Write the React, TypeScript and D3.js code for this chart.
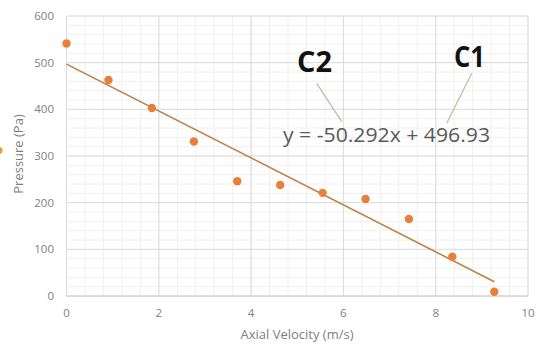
import React from "react";
import * as d3 from "d3";

const velocity = [0, 0.91, 1.85, 2.76, 3.7, 4.63, 5.55, 6.48, 7.42, 8.36, 9.27];
const pressure = [541, 463, 403, 331, 246, 238, 221, 208, 165, 84, 9];
const xTicks = [0, 2, 4, 6, 8, 10];
const yTicks = [0, 100, 200, 300, 400, 500, 600];
const slope = -50.292;
const intercept = 496.93;
const equationLabel = "y = -50.292x + 496.93";
const xTitle = "Axial Velocity (m/s)";
const yTitle = "Pressure (Pa)";

const W = 540;
const H = 349;
const font = "'Open Sans', 'DejaVu Sans', sans-serif";

export default function App() {
  const x = d3.scaleLinear().domain([0, 10]).range([66.5, 528]);
  const y = d3.scaleLinear().domain([0, 600]).range([296, 16]);
  const xMinor = d3.range(0, 10.001, 0.4);
  const yMinor = d3.range(0, 600.001, 20);
  const xEnd = d3.max(velocity) as number;
  const trend = d3
    .line<number>()
    .x((d) => x(d))
    .y((d) => y(slope * d + intercept));

  return (
    <svg
      width={W}
      height={H}
      style={{ position: "absolute", left: 0, top: 0, background: "#fff" }}
      fontFamily={font}
    >
      <rect width={W} height={H} fill="#fff" />
      {xMinor.map((v, i) => (
        <line key={"xm" + i} x1={x(v)} x2={x(v)} y1={y(600)} y2={y(0)} stroke="#f0f0f0" strokeWidth={1} />
      ))}
      {yMinor.map((v, i) => (
        <line key={"ym" + i} x1={x(0)} x2={x(10)} y1={y(v)} y2={y(v)} stroke="#f0f0f0" strokeWidth={1} />
      ))}
      {xTicks.map((v) => (
        <line key={"xg" + v} x1={x(v)} x2={x(v)} y1={y(600)} y2={y(0)} stroke="#dcdcdc" strokeWidth={1} />
      ))}
      {yTicks.map((v) => (
        <line key={"yg" + v} x1={x(0)} x2={x(10)} y1={y(v)} y2={y(v)} stroke="#dcdcdc" strokeWidth={1} />
      ))}
      <line x1={x(0)} x2={x(10)} y1={y(0)} y2={y(0)} stroke="#cfcfcf" strokeWidth={1.2} />
      {xTicks.map((v) => (
        <text key={"xt" + v} x={x(v)} y={317} textAnchor="middle" fontSize={11.5} fill="#7f7f7f">
          {v}
        </text>
      ))}
      {yTicks.map((v) => (
        <text key={"yt" + v} x={54} y={y(v) + 4} textAnchor="end" fontSize={11.5} fill="#7f7f7f">
          {v}
        </text>
      ))}
      <text x={297} y={339} textAnchor="middle" fontSize={13} fill="#7f7f7f">
        {xTitle}
      </text>
      <text transform={`translate(23,${154}) rotate(-90)`} textAnchor="middle" fontSize={13} fill="#7f7f7f">
        {yTitle}
      </text>
      <path d={trend([0, xEnd]) || ""} fill="none" stroke="#c0804a" strokeWidth={1.6} />
      {velocity.map((v, i) => (
        <circle key={"p" + i} cx={x(v)} cy={y(pressure[i])} r={4.2} fill="#e8803a" />
      ))}
      <circle cx={-1} cy={150.5} r={3.5} fill="#e8a030" />
      <text x={283} y={142} fontSize={20.5} fill="#595959" textLength={207} lengthAdjust="spacingAndGlyphs">
        {equationLabel}
      </text>
      <line x1={316.7} y1={83.3} x2={341.7} y2={121.7} stroke="#c4b5a5" strokeWidth={1.2} />
      <line x1={471.7} y1={73.3} x2={446.7} y2={123.3} stroke="#c4b5a5" strokeWidth={1.2} />
      <text x={297} y={72} fontSize={29} fontWeight="bold" fill="#111" textLength={35} lengthAdjust="spacingAndGlyphs">
        C2
      </text>
      <text x={454} y={67} fontSize={29} fontWeight="bold" fill="#111" textLength={31} lengthAdjust="spacingAndGlyphs">
        C1
      </text>
    </svg>
  );
}
